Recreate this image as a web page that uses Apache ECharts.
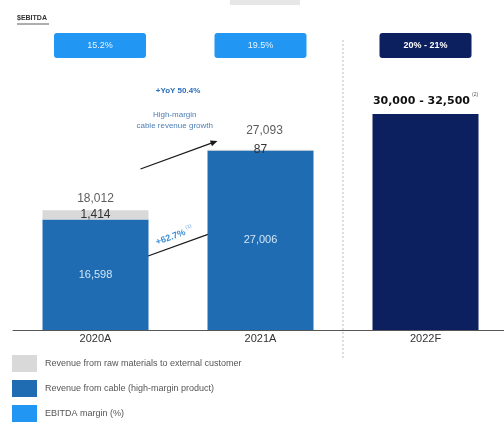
<!DOCTYPE html>
<html>
<head>
<meta charset="utf-8">
<script src="https://cdn.jsdelivr.net/npm/echarts@6/dist/echarts.min.js"></script>
<style>
  html, body { margin: 0; padding: 0; background: #ffffff; }
  #chart { width: 504px; height: 423px; }
</style>
</head>
<body>
<div id="chart"></div>
<script>
// Revenue by year, with EBITDA margin shown above each bar
const categories = ['2020A', '2021A', '2022F'];
const cableRevenue = [16598, 27006, null];
const rawMaterialRevenue = [1414, 87, null];
const forecastLow = [null, null, 30000];
const forecastHigh = [null, null, 32500];
const ebitdaMargin = ['15.2%', '19.5%', '20% - 21%'];
const yoyTotalGrowth = '+YoY 50.4%';
const cableGrowth = '+62.7%';

const FONT = '"Liberation Sans", Arial, sans-serif';
const fmt = v => v.toLocaleString('en-US');
const totals = categories.map((c, i) =>
  cableRevenue[i] == null ? null : cableRevenue[i] + rawMaterialRevenue[i]);

const chart = echarts.init(document.getElementById('chart'), null, { renderer: 'canvas' });

const option = {
  backgroundColor: '#ffffff',
  animation: false,
  textStyle: { fontFamily: FONT },
  grid: { left: 13, top: 64, width: 495, bottom: 93, containLabel: false, outerBoundsMode: 'none' },
  legend: {
    orient: 'vertical',
    left: 12,
    top: 355,
    padding: 0,
    itemWidth: 25,
    itemHeight: 17,
    itemGap: 8,
    icon: 'rect',
    textStyle: { fontFamily: FONT, fontSize: 9, color: '#555', padding: [0, 0, 0, 3] },
    data: [
      'Revenue from raw materials to external customer',
      'Revenue from cable (high-margin product)',
      'EBITDA margin (%)'
    ]
  },
  xAxis: [
    {
      type: 'category',
      data: categories,
      position: 'bottom',
      axisLine: { lineStyle: { color: '#555', width: 1 } },
      axisTick: { show: false },
      axisLabel: { color: '#333', fontSize: 11, margin: 3, fontFamily: FONT }
    },
    {
      type: 'category',
      data: categories,
      position: 'top',
      axisLine: { show: false },
      axisTick: { show: false },
      axisLabel: {
        margin: 6,
        formatter: (v) => {
          const i = categories.indexOf(v);
          if (i === 0) return '{p|}{a|' + ebitdaMargin[i] + '}';
          return (i === 2 ? '{f|' : '{a|') + ebitdaMargin[i] + '}';
        },
        rich: {
          p: { width: 9, height: 25 },
          a: {
            width: 92, height: 25, align: 'center', verticalAlign: 'middle',
            backgroundColor: '#2196f3', borderRadius: 3,
            color: '#e8f3ff', fontSize: 9, fontFamily: FONT
          },
          f: {
            width: 92, height: 25, align: 'center', verticalAlign: 'middle',
            backgroundColor: '#0c1f5e', borderRadius: 3,
            color: '#ffffff', fontSize: 9, fontWeight: 'bold', fontFamily: FONT
          }
        }
      }
    }
  ],
  yAxis: { type: 'value', min: 0, max: 40000, show: false, splitLine: { show: false } },
  series: [
    {
      name: 'Revenue from cable (high-margin product)',
      type: 'bar',
      stack: 'rev',
      barWidth: 106,
      itemStyle: { color: '#1f6cb3' },
      data: cableRevenue,
      label: {
        show: true, position: 'inside', color: '#d2e5f7', fontSize: 11,
        fontFamily: FONT, formatter: p => fmt(p.value)
      }
    },
    {
      name: 'Revenue from raw materials to external customer',
      type: 'bar',
      stack: 'rev',
      itemStyle: { color: '#d9d9d9' },
      data: rawMaterialRevenue,
      label: {
        show: true, position: 'inside', color: '#333', fontSize: 12,
        fontFamily: FONT, formatter: p => fmt(p.value)
      }
    },
    {
      name: 'Forecast',
      type: 'bar',
      stack: 'rev',
      itemStyle: { color: '#0c1f5e' },
      data: forecastHigh,
      label: {
        show: true, position: 'top', distance: 3,
        formatter: p => '{v|' + fmt(forecastLow[p.dataIndex]) + ' - ' + fmt(p.value) + '}{s|(2)}',
        rich: {
          v: { fontSize: 11, fontWeight: 'bold', color: '#111', fontFamily: '"DejaVu Sans", sans-serif' },
          s: { fontSize: 5, color: '#555', padding: [0, 0, 14, 2], fontFamily: FONT }
        }
      }
    },
    {
      // legend entry only: margins are drawn as boxes on the top axis
      name: 'EBITDA margin (%)',
      type: 'bar',
      stack: 'rev',
      itemStyle: { color: '#2196f3' },
      data: []
    },
    {
      name: 'Total',
      type: 'scatter',
      symbolSize: 0,
      silent: true,
      data: totals.map((v, i) => ({
        value: v,
        label: i === 1 ? { distance: 13, offset: [4, 0] } : { distance: 6 }
      })),
      label: {
        show: true, position: 'top', color: '#333', fontSize: 12,
        fontFamily: FONT, formatter: p => fmt(p.value)
      }
    }
  ]
};

chart.setOption(option);

// Annotations placed relative to the category axis
const px = c => chart.convertToPixel({ xAxisIndex: 0 }, c);
const x0 = px(categories[0]), x1 = px(categories[1]), x2 = px(categories[2]);
const dividerX = (x1 + x2) / 2;

function arrow(ax, ay, bx, by, color) {
  const ang = Math.atan2(by - ay, bx - ax);
  const L = 7, W = 3;
  const p1 = [bx, by];
  const p2 = [bx - L * Math.cos(ang) + W * Math.sin(ang), by - L * Math.sin(ang) - W * Math.cos(ang)];
  const p3 = [bx - L * Math.cos(ang) - W * Math.sin(ang), by - L * Math.sin(ang) + W * Math.cos(ang)];
  return [
    { type: 'line', shape: { x1: ax, y1: ay, x2: bx - 5 * Math.cos(ang), y2: by - 5 * Math.sin(ang) },
      style: { stroke: color, lineWidth: 1.3 } },
    { type: 'polygon', shape: { points: [p1, p2, p3] }, style: { fill: color } }
  ];
}

const gap = (x1 - x0);
chart.setOption({
  graphic: [
    { type: 'rect', shape: { x: 230, y: 0, width: 70, height: 5 }, style: { fill: '#e6e6e6' } },
    { type: 'text', left: 17, top: 15,
      style: { text: '$EBITDA', fontSize: 7, fontWeight: 'bold', fill: '#333', fontFamily: FONT } },
    { type: 'line', shape: { x1: 17, y1: 24, x2: 49, y2: 24 }, style: { stroke: '#333', lineWidth: 0.8 } },
    { type: 'line', shape: { x1: dividerX, y1: 40, x2: dividerX, y2: 360 },
      style: { stroke: '#bdbdbd', lineWidth: 1, lineDash: [2, 2] } },
    { type: 'text', x: x0 + gap * 0.5, y: 91,
      style: { text: yoyTotalGrowth, fontSize: 8, fontWeight: 'bold', fill: '#2a6fb8',
               align: 'center', verticalAlign: 'middle', fontFamily: FONT } },
    { type: 'text', x: x0 + gap * 0.48, y: 120,
      style: { text: 'High-margin\ncable revenue growth', fontSize: 8, lineHeight: 11, fill: '#4d7fb5',
               align: 'center', verticalAlign: 'middle', fontFamily: FONT } },
    ...arrow(x0 + 45, 169, x1 - 43, 141, '#1a1a1a'),
    ...arrow(x0 + 47, 258, x1 - 43, 231, '#1a1a1a'),
    { type: 'text', x: x0 + 79, y: 236, rotation: 0.35,
      style: { text: '{g|' + cableGrowth + '}{s|(1)}', align: 'center', verticalAlign: 'middle',
               rich: {
                 g: { fontSize: 9, fontWeight: 'bold', fill: '#3d8fd6', fontFamily: FONT },
                 s: { fontSize: 5, fill: '#6aa4dd', padding: [0, 0, 8, 2], fontFamily: FONT }
               } } }
  ]
});
</script>
</body>
</html>
